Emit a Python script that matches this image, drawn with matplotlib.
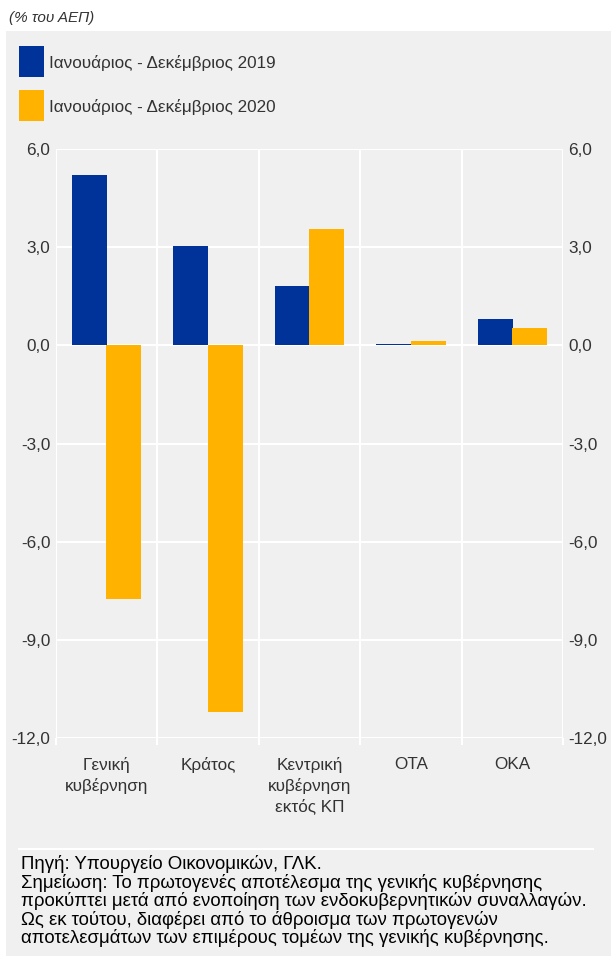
import matplotlib.pyplot as plt
import matplotlib.patches as mpatches
import numpy as np

# Δεδομένα (% του ΑΕΠ)
categories = ['Γενική\nκυβέρνηση', 'Κράτος', 'Κεντρική\nκυβέρνηση\nεκτός ΚΠ', 'ΟΤΑ', 'ΟΚΑ']
values_2019 = [5.22, 3.04, 1.81, 0.05, 0.81]
values_2020 = [-7.75, -11.2, 3.55, 0.12, 0.54]
series_names = ['Ιανουάριος - Δεκέμβριος 2019', 'Ιανουάριος - Δεκέμβριος 2020']
y_ticks = [6.0, 3.0, 0.0, -3.0, -6.0, -9.0, -12.0]

BLUE = '#003399'
ORANGE = '#FFB300'
BG = '#F0F0F0'
TXT = '#333333'

plt.rcParams['font.family'] = ['Liberation Sans', 'DejaVu Sans']

W, H = 611, 956
fig = plt.figure(figsize=(W / 100, H / 100), dpi=100)
fig.patch.set_facecolor('white')

# γκρι φόντο
fig.patches.append(mpatches.Rectangle((6 / W, 0), 1 - 6 / W, (H - 31) / H,
                                      transform=fig.transFigure, facecolor=BG,
                                      edgecolor='none', zorder=-5))

fig.text(9 / W, 1 - 18 / H, '(% του ΑΕΠ)', style='italic', fontsize=11,
         color=TXT, va='center', ha='left')

# υπόμνημα
for i, (name, col) in enumerate(zip(series_names, [BLUE, ORANGE])):
    y0 = 46 + i * 44
    fig.patches.append(mpatches.Rectangle((19 / W, 1 - (y0 + 31) / H), 25 / W, 31 / H,
                                          transform=fig.transFigure, facecolor=col,
                                          edgecolor='none'))
    fig.text(49 / W, 1 - (y0 + 17) / H, name, fontsize=12.3, color=TXT,
             va='center', ha='left')

ax = fig.add_axes([56 / W, 218 / H, (563 - 56) / W, (738 - 149) / H])
ax.set_facecolor(BG)
ax.set_zorder(1)

x = np.arange(len(categories))
bw = 0.345
ax.bar(x - 0.17, values_2019, width=bw, color=BLUE, zorder=3)
ax.bar(x + 0.17, values_2020, width=bw, color=ORANGE, zorder=3)

ax.set_xlim(-0.5, len(categories) - 0.5)
ax.set_ylim(-12, 6)
ax.set_yticks(y_ticks)
ax.set_yticklabels([f'{v:.1f}'.replace('.', ',') for v in y_ticks])
ax.set_xticks(x)
ax.set_xticklabels(categories, fontsize=12.3, color=TXT, linespacing=1.35)
ax.set_xticks(np.arange(-0.5, len(categories)), minor=True)

ax.grid(axis='y', color='white', linewidth=1.5, zorder=0)
ax.grid(axis='x', which='minor', color='white', linewidth=1.5, zorder=0)
ax.grid(axis='x', which='major', visible=False)

for s in ax.spines.values():
    s.set_visible(False)

ax.tick_params(axis='y', which='major', length=0, labelsize=12.3, labelcolor=TXT,
               labelleft=True, labelright=True, pad=4)
ax.tick_params(axis='x', which='major', length=0, pad=14)
ax.tick_params(axis='x', which='minor', length=5, width=1.5, color='white')

# πηγή / σημείωση
fig.lines.append(plt.Line2D([19 / W, 593 / W], [1 - 849 / H, 1 - 849 / H],
                            transform=fig.transFigure, color='white', linewidth=1.5))
note = ('Πηγή: Υπουργείο Οικονομικών, ΓΛΚ.\n'
        'Σημείωση: Το πρωτογενές αποτέλεσμα της γενικής κυβέρνησης\n'
        'προκύπτει μετά από ενοποίηση των ενδοκυβερνητικών συναλλαγών.\n'
        'Ως εκ τούτου, διαφέρει από το άθροισμα των πρωτογενών\n'
        'αποτελεσμάτων των επιμέρους τομέων της γενικής κυβέρνησης.')
fig.text(21 / W, 1 - 855 / H, note, fontsize=13.4, color='black', va='top',
         ha='left', linespacing=1.04)

fig.savefig('out.png', dpi=100, facecolor=fig.get_facecolor())
